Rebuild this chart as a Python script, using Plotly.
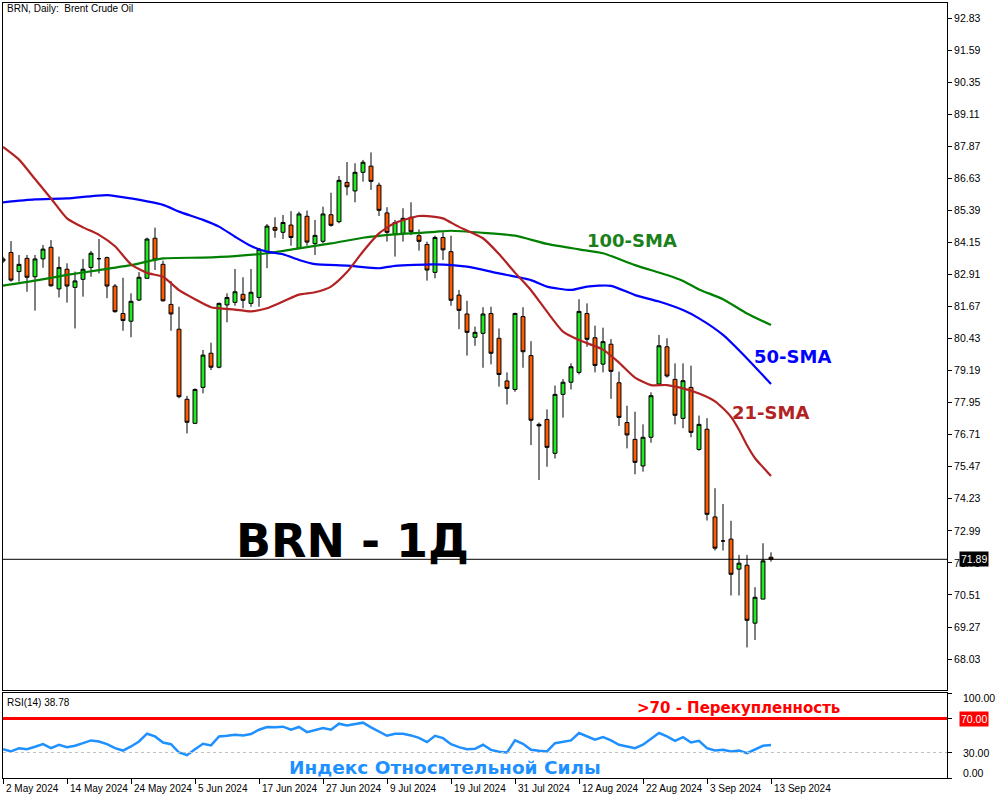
import plotly.graph_objects as go

# ---------------- data ----------------
bar_dates_labels = ["2 May 2024", "14 May 2024", "24 May 2024", "5 Jun 2024", "17 Jun 2024",
                    "27 Jun 2024", "9 Jul 2024", "19 Jul 2024", "31 Jul 2024", "12 Aug 2024",
                    "22 Aug 2024", "3 Sep 2024", "13 Sep 2024"]
date_tick_bars = [0, 8, 16, 24, 32, 40, 48, 56, 64, 72, 80, 88, 96]

opens = [83.43, 83.76, 83.02, 83.53, 82.82, 83.51, 83.96, 82.35, 83.11, 82.41,
         82.72, 83.18, 83.52, 83.56, 82.46, 81.40, 81.10, 81.92, 82.76, 84.31,
         83.30, 81.75, 80.79, 78.08, 77.15, 78.54, 79.86, 79.32, 81.73, 81.83,
         82.14, 81.79, 82.02, 83.79, 84.73, 84.54, 84.82, 83.92, 85.16, 84.10,
         84.19, 85.22, 84.95, 86.47, 86.14, 86.86, 87.10, 86.36, 85.29, 84.47,
         84.50, 85.12, 84.41, 84.07, 82.99, 84.34, 83.79, 82.11, 81.38, 80.48,
         80.63, 81.40, 80.44, 78.79, 78.46, 81.28, 79.77, 77.11, 77.30, 75.99,
         78.27, 78.74, 79.12, 81.40, 80.46, 79.44, 80.21, 78.72, 77.18, 76.53,
         75.50, 76.61, 78.67, 80.11, 78.85, 77.34, 78.54, 76.14, 76.92, 73.53,
         72.60, 72.67, 71.51, 71.66, 69.42, 70.35, 71.97]
highs = [83.60, 84.20, 83.66, 83.66, 83.66, 84.05, 84.24, 83.60, 83.34, 83.02,
         83.51, 83.82, 84.28, 83.60, 82.54, 82.78, 82.18, 83.00, 84.33, 84.72,
         83.44, 82.66, 81.66, 78.21, 78.50, 79.99, 80.27, 81.82, 82.18, 83.12,
         82.80, 83.12, 83.92, 84.86, 85.12, 85.21, 85.36, 85.34, 85.38, 85.02,
         85.53, 86.07, 86.72, 87.26, 87.21, 87.34, 87.63, 86.46, 85.51, 85.02,
         85.47, 85.70, 84.65, 84.18, 84.41, 84.54, 84.41, 82.31, 81.89, 80.89,
         81.64, 81.66, 80.82, 79.12, 81.43, 81.64, 80.33, 77.18, 77.69, 78.61,
         78.86, 79.47, 81.95, 81.79, 80.93, 80.85, 80.41, 79.15, 77.83, 77.60,
         77.11, 78.35, 80.57, 80.44, 79.47, 79.47, 79.38, 77.45, 77.35, 74.64,
         74.03, 73.38, 72.06, 72.06, 70.81, 72.51, 72.16]
lows = [83.35, 82.63, 82.63, 82.24, 81.51, 83.17, 82.44, 82.02, 81.82, 80.82,
        82.05, 82.82, 82.95, 81.99, 81.43, 80.73, 80.48, 81.88, 82.76, 83.08,
        81.86, 80.73, 78.12, 76.76, 77.12, 78.31, 79.21, 79.28, 81.06, 81.70,
        81.60, 81.66, 81.66, 83.15, 84.33, 84.28, 84.02, 83.89, 84.02, 83.66,
        84.11, 84.76, 84.89, 85.97, 85.70, 86.50, 86.18, 85.17, 84.18, 83.60,
        84.18, 84.43, 83.83, 82.67, 82.76, 83.47, 81.70, 80.79, 79.77, 80.15,
        79.30, 79.43, 78.57, 77.88, 78.37, 79.30, 76.31, 74.96, 75.47, 75.79,
        77.37, 78.46, 79.04, 80.11, 79.12, 79.12, 78.10, 77.05, 76.18, 75.18,
        75.28, 76.40, 78.63, 78.92, 77.11, 76.96, 76.61, 76.09, 73.39, 72.23,
        72.23, 70.49, 70.49, 68.48, 68.77, 70.35, 71.80]
closes = [83.51, 82.69, 83.30, 82.80, 83.51, 83.89, 82.47, 83.18, 82.46, 82.66,
          83.11, 83.73, 83.52, 82.46, 81.47, 81.13, 81.87, 82.80, 84.28, 83.47,
          81.89, 81.38, 78.18, 77.19, 78.46, 79.79, 79.32, 81.79, 82.02, 82.24,
          81.91, 82.22, 83.89, 84.78, 84.62, 84.92, 84.34, 85.25, 84.16, 84.42,
          85.25, 84.81, 86.55, 86.30, 86.86, 87.25, 86.51, 85.39, 84.54, 84.92,
          85.08, 84.56, 84.19, 83.08, 84.34, 83.86, 81.91, 81.52, 80.67, 80.67,
          81.38, 79.86, 79.04, 78.50, 81.40, 79.92, 77.27, 77.05, 76.22, 78.27,
          78.74, 79.34, 81.48, 80.40, 79.39, 80.31, 79.16, 77.38, 76.70, 75.64,
          76.61, 78.22, 80.15, 78.98, 77.46, 78.80, 76.80, 77.11, 73.63, 72.32,
          72.60, 71.31, 71.74, 69.53, 70.42, 71.83, 71.89]

sma21_bars = [0, 2, 4, 6, 8, 10, 12, 14, 16, 18, 20, 22, 24, 26, 29, 31, 33, 35, 37, 39,
              41, 43, 45, 47, 49, 52, 54, 55, 57, 60, 62, 64, 66, 68, 70, 72, 75, 77, 79,
              81, 83, 85, 87, 89, 90, 91, 92, 93, 94, 95, 96]
sma21_vals = [87.84, 87.35, 86.60, 85.85, 85.08, 84.73, 84.44, 84.00, 83.30, 82.97,
              82.82, 82.30, 81.95, 81.64, 81.55, 81.48, 81.60, 81.86, 82.13, 82.22,
              82.44, 83.00, 83.80, 84.50, 84.90, 85.17, 85.14, 85.08, 84.75, 84.31,
              83.70, 82.98, 82.30, 81.47, 80.70, 80.37, 80.00, 79.50, 78.92, 78.63,
              78.63, 78.50, 78.30, 78.00, 77.73, 77.40, 76.90, 76.30, 75.80, 75.45,
              75.11]

sma50_bars = [0, 4, 8, 13, 16, 20, 22, 25, 27, 29, 31, 33, 35, 37, 39, 43, 47, 49, 54,
              58, 62, 66, 68, 71, 73, 76, 79, 82, 85, 87, 90, 93, 96]
sma50_vals = [85.70, 85.81, 85.85, 85.98, 85.85, 85.60, 85.34, 85.02, 84.76, 84.37,
              84.01, 83.79, 83.69, 83.47, 83.31, 83.25, 83.15, 83.24, 83.30, 83.21,
              82.95, 82.69, 82.44, 82.31, 82.44, 82.47, 82.11, 81.86, 81.53, 81.21,
              80.57, 79.66, 78.67]

sma100_bars = [0, 4, 8, 12, 16, 20, 25, 29, 33, 37, 41, 45, 49, 54, 56, 60, 64, 68,
               72, 75, 79, 83, 85, 87, 90, 93, 96]
sma100_vals = [82.48, 82.67, 82.89, 83.08, 83.27, 83.53, 83.56, 83.62, 83.73, 83.92,
               84.11, 84.33, 84.46, 84.56, 84.60, 84.52, 84.41, 84.09, 83.88, 83.73,
               83.27, 82.89, 82.66, 82.33, 81.95, 81.40, 80.95]

rsi_vals = [33.9, 31.2, 35.1, 33.9, 36.7, 39.8, 35.1, 39.1, 36.3, 37.9,
            41.0, 44.2, 43.0, 39.8, 35.1, 32.3, 37.1, 43.0, 52.1, 48.9,
            41.8, 39.8, 30.0, 26.8, 33.9, 40.2, 38.3, 48.9, 49.7, 50.9,
            50.1, 51.7, 56.8, 60.0, 59.6, 60.4, 56.8, 60.0, 54.0, 56.0,
            58.8, 56.8, 63.9, 61.9, 63.9, 65.1, 59.6, 54.8, 49.7, 52.1,
            52.1, 50.1, 47.3, 42.2, 49.7, 46.9, 39.8, 36.3, 33.9, 34.3,
            39.1, 33.1, 30.8, 30.0, 44.2, 40.2, 33.1, 32.0, 31.2, 41.0,
            42.2, 44.2, 52.9, 48.9, 45.0, 48.1, 44.2, 39.1, 37.1, 35.1,
            39.1, 45.8, 52.9, 48.9, 43.8, 48.1, 41.8, 43.8, 35.1, 32.3,
            33.1, 31.2, 32.3, 29.2, 33.1, 37.9, 38.78]

price_tick_labels = ["92.83", "91.59", "90.35", "89.11", "87.87", "86.63", "85.39",
                     "84.15", "82.91", "81.67", "80.43", "79.19", "77.95", "76.71",
                     "75.47", "74.23", "72.99", "71.75", "70.51", "69.27", "68.03"]
last_price = 71.89
rsi_levels = [70, 30]
rsi_tick_labels = ["100.00", "30.00", "0.00"]
rsi_tick_vals = [100, 30, 0]

# ---------------- layout helpers ----------------
W, H = 1000, 800
L, R, T, B = 3, 53, 3, 22
PW, PH = W - L - R, H - T - B


def xp(px):
    return (px - L) / PW


def yp(py):
    return (H - B - py) / PH


small_font = "Liberation Sans, Arial, sans-serif"
bold_font = "DejaVu Sans, Arial, sans-serif"

bars = list(range(len(opens)))

fig = go.Figure()

fig.add_trace(go.Candlestick(
    x=bars, open=opens, high=highs, low=lows, close=closes,
    increasing=dict(line=dict(color="black", width=1), fillcolor="#22e822"),
    decreasing=dict(line=dict(color="black", width=1), fillcolor="#ff5a00"),
    whiskerwidth=0, xaxis="x", yaxis="y", showlegend=False, hoverinfo="skip"))

fig.add_trace(go.Scatter(x=sma100_bars, y=sma100_vals, mode="lines",
                         line=dict(color="#008000", width=2.2, shape="spline", smoothing=0.6),
                         xaxis="x", yaxis="y", showlegend=False, hoverinfo="skip"))
fig.add_trace(go.Scatter(x=sma50_bars, y=sma50_vals, mode="lines",
                         line=dict(color="#0000ff", width=2.2, shape="spline", smoothing=0.6),
                         xaxis="x", yaxis="y", showlegend=False, hoverinfo="skip"))
fig.add_trace(go.Scatter(x=sma21_bars, y=sma21_vals, mode="lines",
                         line=dict(color="#b22222", width=2.2, shape="spline", smoothing=0.6),
                         xaxis="x", yaxis="y", showlegend=False, hoverinfo="skip"))

fig.add_trace(go.Scatter(x=bars, y=rsi_vals, mode="lines",
                         line=dict(color="#1e90ff", width=2.5), xaxis="x2", yaxis="y2",
                         showlegend=False, hoverinfo="skip"))

x_range = [0.0, 118.0]
main_bottom = yp(690)
rsi_top = yp(693)

fig.update_layout(
    width=W, height=H,
    margin=dict(l=L, r=R, t=T, b=B, autoexpand=False),
    paper_bgcolor="white", plot_bgcolor="white",
    showlegend=False,
    xaxis=dict(domain=[0, 1], anchor="y", range=x_range, showgrid=False, zeroline=False,
               showticklabels=False, ticks="", showline=True, mirror=True,
               linecolor="black", linewidth=1, rangeslider=dict(visible=False)),
    yaxis=dict(domain=[main_bottom, 1], anchor="x", side="right",
               range=[92.83 - (690 - 18) / 25.85, 92.83 + 15 / 25.85],
               tickvals=[float(v) for v in price_tick_labels], ticktext=price_tick_labels,
               ticks="outside", ticklen=4, tickcolor="black",
               tickfont=dict(family=small_font, size=10.5, color="black"),
               showgrid=False, zeroline=False, showline=True, mirror=True,
               linecolor="black", linewidth=1),
    xaxis2=dict(domain=[0, 1], anchor="y2", range=x_range, matches="x",
                tickvals=date_tick_bars, ticks="outside", ticklen=5, tickcolor="black",
                showticklabels=False, showgrid=False, zeroline=False,
                showline=True, mirror=True, linecolor="black", linewidth=1),
    yaxis2=dict(domain=[0, rsi_top], anchor="x2", side="right", range=[0, 100],
                tickvals=[0, 30, 70, 100], ticks="outside", ticklen=4, tickcolor="black",
                showticklabels=False, showgrid=False, zeroline=False,
                showline=True, mirror=True, linecolor="black", linewidth=1),
)

shapes = [
    dict(type="line", xref="paper", yref="y", x0=0, x1=1, y0=last_price, y1=last_price,
         line=dict(color="black", width=1)),
    dict(type="line", xref="paper", yref="y2", x0=0, x1=1, y0=rsi_levels[0], y1=rsi_levels[0],
         line=dict(color="#ff0000", width=3)),
    dict(type="line", xref="paper", yref="y2", x0=0, x1=1, y0=rsi_levels[1], y1=rsi_levels[1],
         line=dict(color="#c0c0c0", width=1, dash="3px,3px")),
]
fig.update_layout(shapes=shapes)

ann = []
ann.append(dict(text="BRN, Daily:\u00a0 Brent Crude Oil", xref="paper", yref="paper",
                x=xp(5), y=yp(9), xanchor="left", yanchor="middle", showarrow=False,
                font=dict(family=small_font, size=10, color="black")))
ann.append(dict(text="<b>BRN - 1Д</b>", xref="paper", yref="paper",
                x=xp(352), y=yp(541), xanchor="center", yanchor="middle", showarrow=False,
                font=dict(family=bold_font, size=46, color="black")))
ann.append(dict(text="<b>100-SMA</b>", xref="paper", yref="paper",
                x=xp(632), y=yp(240.5), xanchor="center", yanchor="middle", showarrow=False,
                font=dict(family=bold_font, size=18, color="#1a801a")))
ann.append(dict(text="<b>50-SMA</b>", xref="paper", yref="paper",
                x=xp(792), y=yp(356.5), xanchor="center", yanchor="middle", showarrow=False,
                font=dict(family=bold_font, size=18, color="#0000ff")))
ann.append(dict(text="<b>21-SMA</b>", xref="paper", yref="paper",
                x=xp(770), y=yp(412.5), xanchor="center", yanchor="middle", showarrow=False,
                font=dict(family=bold_font, size=18, color="#b22222")))
ann.append(dict(text="<b>>70 - Перекупленность</b>", xref="paper", yref="paper",
                x=xp(738), y=yp(708), xanchor="center", yanchor="middle", showarrow=False,
                font=dict(family=bold_font, size=15, color="#ff0000")))
ann.append(dict(text="<b>Индекс Относительной Силы</b>", xref="paper", yref="paper",
                x=xp(445), y=yp(767), xanchor="center", yanchor="middle", showarrow=False,
                font=dict(family=bold_font, size=18.5, color="#1e90ff")))
ann.append(dict(text="RSI(14) %.2f" % rsi_vals[-1], xref="paper", yref="paper",
                x=xp(5), y=yp(702), xanchor="left", yanchor="middle", showarrow=False,
                font=dict(family=small_font, size=10, color="black")))
# price marker labels on the right axis
ann.append(dict(text="%.2f" % last_price, xref="paper", yref="y",
                x=xp(959), y=last_price, xanchor="left", yanchor="middle", showarrow=False,
                bgcolor="black", borderpad=1,
                font=dict(family=small_font, size=10.5, color="white")))
ann.append(dict(text="%.2f" % rsi_levels[0], xref="paper", yref="y2",
                x=xp(959), y=rsi_levels[0], xanchor="left", yanchor="middle", showarrow=False,
                bgcolor="#ff0000", borderpad=1,
                font=dict(family=small_font, size=10.5, color="white")))
rsi_label_px = [698, 753, 773]
for txt, py in zip(rsi_tick_labels, rsi_label_px):
    ann.append(dict(text=txt, xref="paper", yref="paper", x=xp(961), y=yp(py),
                    xanchor="left", yanchor="middle", showarrow=False,
                    font=dict(family=small_font, size=10.5, color="black")))
for b, lab in zip(date_tick_bars, bar_dates_labels):
    ann.append(dict(text=lab, xref="x2", yref="paper", x=b, y=yp(788), xshift=1,
                    xanchor="left", yanchor="middle", showarrow=False,
                    font=dict(family=small_font, size=10, color="black")))
fig.update_layout(annotations=ann)

fig.write_html("out.html", config={"displayModeBar": False},
               post_script="document.body.style.margin='0';document.body.style.overflow='hidden';")
